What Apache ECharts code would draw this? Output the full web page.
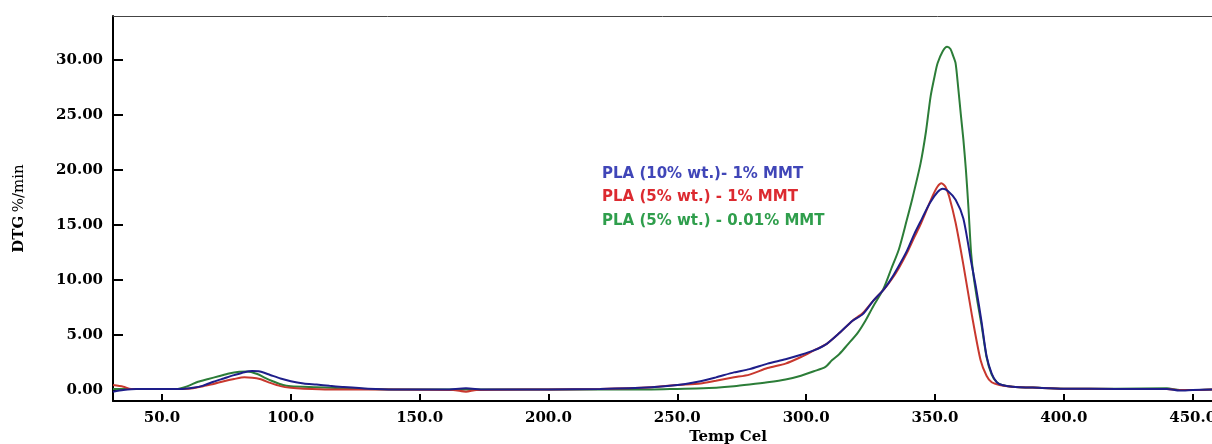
<!DOCTYPE html>
<html>
<head>
<meta charset="utf-8">
<script src="https://cdn.jsdelivr.net/npm/echarts@6/dist/echarts.min.js"></script>
<style>
  html, body { margin: 0; padding: 0; background: #ffffff; }
  #chart { width: 1212px; height: 444px; }
</style>
</head>
<body>
<div id="chart"></div>
<script>
// tick labels
const xTicks = [50, 100, 150, 200, 250, 300, 350, 400, 450];
const yTicks = [0, 5, 10, 15, 20, 25, 30];

const seriesNames = ['PLA (10% wt.)- 1% MMT', 'PLA (5% wt.) - 1% MMT', 'PLA (5% wt.) - 0.01% MMT'];

// PLA 10% - 1% MMT (blue)
const blueT = [31, 35, 40, 50, 58, 62, 66, 70, 74, 78, 82, 85, 88, 92, 96, 100, 105, 110, 115, 120, 130, 140, 160, 168, 175, 200, 220, 240, 250, 259, 265, 272, 278, 285, 292, 298, 303, 308, 313, 318, 322, 326, 330, 333, 336, 339, 342, 345, 348, 351, 353, 355, 358, 361, 364, 366, 368, 370, 372, 374, 376, 380, 390, 400, 420, 440, 445, 450, 457.5];
const blueV = [-0.15, 0.0, 0.1, 0.1, 0.1, 0.2, 0.4, 0.75, 1.05, 1.35, 1.62, 1.72, 1.68, 1.37, 1.05, 0.8, 0.6, 0.5, 0.38, 0.28, 0.12, 0.05, 0.05, 0.15, 0.05, 0.05, 0.1, 0.25, 0.45, 0.8, 1.15, 1.6, 1.9, 2.4, 2.8, 3.2, 3.6, 4.2, 5.2, 6.3, 6.9, 8.1, 9.1, 10.1, 11.3, 12.6, 14.2, 15.6, 17.0, 18.0, 18.3, 18.1, 17.3, 15.6, 11.7, 9.2, 6.3, 3.1, 1.5, 0.7, 0.45, 0.3, 0.2, 0.12, 0.1, 0.1, -0.05, 0.0, 0.05];

// PLA 5% - 1% MMT (red)
const redT = [31, 35, 38, 50, 58, 62, 66, 70, 74, 78, 82, 85, 88, 92, 96, 100, 105, 115, 140, 163, 168, 172, 200, 220, 240, 250, 259, 265, 272, 278, 285, 292, 298, 303, 308, 313, 318, 322, 326, 330, 333, 336, 339, 342, 344.5, 349, 351, 352.5, 354, 355.5, 358, 361, 364.4, 367.7, 370, 372, 375, 380, 390, 400, 420, 440, 445, 450, 457.5];
const redV = [0.45, 0.3, 0.1, 0.1, 0.1, 0.15, 0.35, 0.55, 0.8, 1.0, 1.15, 1.12, 1.0, 0.65, 0.35, 0.2, 0.12, 0.05, 0.05, 0.0, -0.15, 0.0, 0.05, 0.1, 0.25, 0.45, 0.6, 0.85, 1.15, 1.4, 2.0, 2.4, 3.0, 3.6, 4.2, 5.2, 6.3, 7.0, 8.1, 9.1, 10.0, 11.1, 12.4, 13.9, 15.1, 17.6, 18.5, 18.8, 18.5, 17.6, 15.2, 11.4, 6.7, 2.7, 1.3, 0.7, 0.45, 0.3, 0.2, 0.12, 0.1, 0.1, 0.0, 0.0, 0.05];

// PLA 5% - 0.01% MMT (green)
const greenT = [31, 50, 56, 60, 64, 68, 72, 76, 80, 83, 87, 90, 93, 97, 100, 110, 120, 140, 200, 240, 250, 260, 272, 278, 285, 292, 298, 303, 307.5, 310, 313, 316, 320, 323, 326, 330, 333, 336, 339, 341, 344.4, 346.5, 348.3, 350, 351, 353, 354.7, 356, 357, 358, 359, 360, 361, 362, 363, 364, 365, 366.5, 368, 370, 372, 374, 376, 380, 390, 400, 420, 440, 445, 450, 457.5];
const greenV = [0.1, 0.1, 0.1, 0.35, 0.75, 1.0, 1.25, 1.5, 1.65, 1.68, 1.45, 1.1, 0.8, 0.45, 0.35, 0.25, 0.15, 0.05, 0.05, 0.05, 0.1, 0.15, 0.35, 0.5, 0.7, 0.95, 1.3, 1.7, 2.1, 2.7, 3.3, 4.1, 5.2, 6.3, 7.6, 9.2, 11.0, 12.8, 15.4, 17.2, 20.6, 23.5, 26.7, 28.7, 29.7, 30.8, 31.2, 31.0, 30.4, 29.7, 27.5, 25.1, 22.8, 20.0, 16.5, 12.5, 10.3, 8.0, 6.0, 3.0, 1.4, 0.7, 0.45, 0.3, 0.2, 0.12, 0.12, 0.15, 0.0, 0.0, 0.05];

function pairs(t, v) {
  return t.map((x, i) => [x, v[i]]);
}

const serif = 'DejaVu Serif';
const chart = echarts.init(document.getElementById('chart'), null, { renderer: 'canvas' });

const option = {
  backgroundColor: '#ffffff',
  animation: false,
  grid: { left: 113, right: 0, top: 16, bottom: 43, outerBoundsMode: 'none', containLabel: false },
  xAxis: [{
    type: 'value',
    min: 31,
    max: 457.5,
    axisLine: { show: true, onZero: false, lineStyle: { color: '#000', width: 2 } },
    axisTick: { show: true, inside: true, length: 7, customValues: xTicks, lineStyle: { color: '#000', width: 2 } },
    axisLabel: {
      customValues: xTicks,
      margin: 10,
      formatter: v => v.toFixed(1),
      color: '#000',
      fontFamily: serif,
      fontWeight: 'bold',
      fontSize: 15
    },
    splitLine: { show: false }
  }, {
    type: 'value',
    position: 'top',
    min: 31,
    max: 457.5,
    axisLine: { show: true, onZero: false, lineStyle: { color: '#444', width: 1 } },
    axisTick: { show: false },
    axisLabel: { show: false },
    splitLine: { show: false }
  }],
  yAxis: {
    type: 'value',
    min: -1,
    max: 34,
    name: '{b|DTG} {r|%/min}',
    nameLocation: 'middle',
    nameGap: 86,
    nameRotate: 90,
    nameTextStyle: {
      rich: {
        b: { fontFamily: serif, fontWeight: 'bold', fontSize: 15, color: '#000' },
        r: { fontFamily: serif, fontSize: 15, color: '#000' }
      }
    },
    axisLine: { show: true, onZero: false, lineStyle: { color: '#000', width: 2 } },
    axisTick: { show: true, inside: true, length: 10, customValues: yTicks, lineStyle: { color: '#000', width: 2 } },
    axisLabel: {
      customValues: yTicks,
      margin: 10,
      formatter: v => v.toFixed(2),
      color: '#000',
      fontFamily: serif,
      fontWeight: 'bold',
      fontSize: 15
    },
    splitLine: { show: false }
  },
  graphic: [
    { type: 'text', x: 728, y: 437, style: { text: 'Temp Cel', fill: '#000', font: 'bold 15px "DejaVu Serif"', textAlign: 'center', textVerticalAlign: 'middle' } },
    { type: 'text', x: 602, y: 174, style: { text: seriesNames[0], fill: '#4046b8', font: 'bold 15px "DejaVu Sans"', textAlign: 'left', textVerticalAlign: 'middle' } },
    { type: 'text', x: 602, y: 197.5, style: { text: seriesNames[1], fill: '#dc2a30', font: 'bold 15px "DejaVu Sans"', textAlign: 'left', textVerticalAlign: 'middle' } },
    { type: 'text', x: 602, y: 221, style: { text: seriesNames[2], fill: '#2f9e4c', font: 'bold 15px "DejaVu Sans"', textAlign: 'left', textVerticalAlign: 'middle' } }
  ],
  series: [
    {
      name: seriesNames[2], type: 'line', showSymbol: false, smooth: 0.25,
      lineStyle: { color: '#2c7d38', width: 2 },
      data: pairs(greenT, greenV)
    },
    {
      name: seriesNames[1], type: 'line', showSymbol: false, smooth: 0.25,
      lineStyle: { color: '#c8382e', width: 2 },
      data: pairs(redT, redV)
    },
    {
      name: seriesNames[0], type: 'line', showSymbol: false, smooth: 0.25,
      lineStyle: { color: '#1e1e8a', width: 2 },
      data: pairs(blueT, blueV)
    }
  ]
};

chart.setOption(option);
</script>
</body>
</html>
